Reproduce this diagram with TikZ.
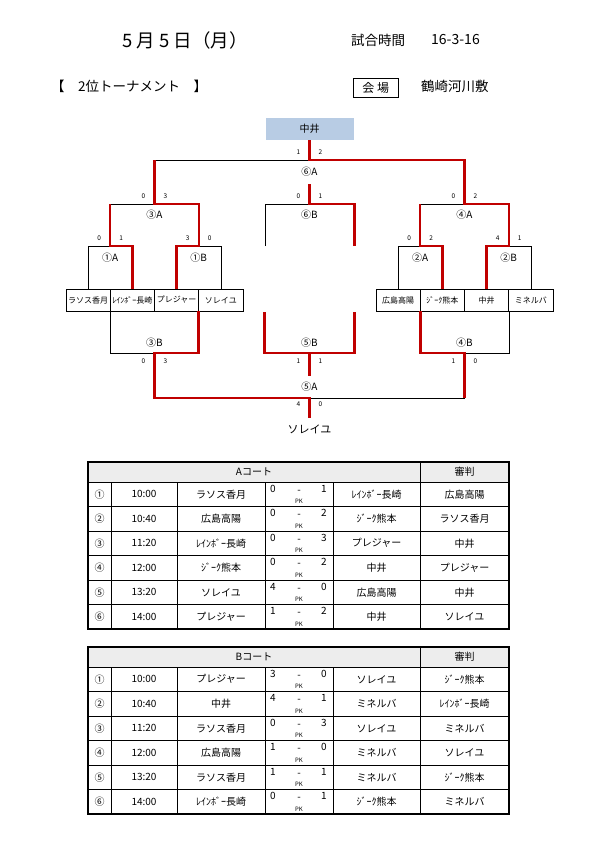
\documentclass[tikz,border=0pt]{standalone}
\usepackage{fontspec}
\setmainfont{Noto Sans CJK JP}
\definecolor{winred}{RGB}{192,0,0}
\definecolor{champblue}{RGB}{184,204,228}
\tikzset{
    win/.style={draw=winred, line width=2.3pt},
    lose/.style={draw=black, line width=0.8pt},
    team/.style={draw=black, line width=0.8pt, minimum width=44.25pt, minimum height=22pt, inner sep=0pt, font=\fontsize{8}{9}\selectfont},
    champ/.style={fill=champblue, minimum width=88pt, minimum height=22pt, inner sep=0pt, font=\fontsize{10}{11}\selectfont},
    game/.style={inner sep=0pt, font=\fontsize{10}{11}\selectfont},
    pts/.style={inner sep=0pt, font=\fontsize{6.5}{7}\selectfont},
    cell/.style={inner sep=0pt, font=\fontsize{10}{11}\selectfont},
    pk/.style={inner sep=0pt, font=\fontsize{6}{6}\selectfont},
    rule/.style={draw=black, line width=0.6pt},
    border/.style={draw=black, line width=1.2pt}
}
% frame of one court table (A coordinates)
\newcommand{\courtbox}[2]{%
    \fill[black!7] (88,462) rectangle (509,482);
    \draw[rule] (88,482) -- (509,482) (88,506.5) -- (509,506.5) (88,531) -- (509,531)
        (88,555.5) -- (509,555.5) (88,580) -- (509,580) (88,604.5) -- (509,604.5);
    \draw[rule] (420,462) -- (420,629) (111,482) -- (111,629) (177,482) -- (177,629)
        (265,482) -- (265,629) (333,482) -- (333,629);
    \draw[border] (88,462) rectangle (509,629);
    \node[cell] (#1title) at (254,472) {#2};
    \node[cell] (#1ref) at (464.5,472) {審判};
}
% one match row: name, y, no, time, home, score, score, away, referee
\newcommand{\gamerow}[9]{%
    \node[cell] (#1n) at (99.5,#2) {#3};
    \node[cell] (#1t) at (144,#2) {#4};
    \node[cell] (#1h) at (221,#2) {#5};
    \node[cell] (#1hs) at (273,#2-5.5) {#6};
    \node[cell] (#1d) at (299,#2-2.5) {-};
    \node[cell] (#1as) at (324,#2-5.5) {#7};
    \node[pk] (#1pk) at (299,#2+7.5) {PK};
    \node[cell] (#1a) at (376.5,#2) {#8};
    \node[cell] (#1r) at (464.5,#2) {#9};
}

\begin{document}
\begin{tikzpicture}[x=1pt, y=-1pt]
    \fill[white] (0,0) rectangle (595,841);
    \useasboundingbox (0,0) rectangle (595,841);

    % header
    \node[inner sep=0pt, font=\fontsize{18.5}{19}\selectfont] (date) at (185,40) {5 月 5 日（月）};
    \node[anchor=west, inner sep=0pt, font=\fontsize{13.5}{14}\selectfont] (time) at (351,40) {試合時間};
    \node[anchor=west, inner sep=0pt, font=\fontsize{14}{14}\selectfont] (len) at (431,40) {16-3-16};
    \node[anchor=west, inner sep=0pt, font=\fontsize{13.5}{14}\selectfont] (kind) at (51,86) {【　2位トーナメント　】};
    \node[draw, line width=0.8pt, minimum width=45pt, minimum height=19pt, inner sep=0pt, font=\fontsize{12}{12}\selectfont] (venue) at (375.8,87.8) {会 場};
    \node[anchor=west, inner sep=0pt, font=\fontsize{13.5}{14}\selectfont] (place) at (421,86) {鶴崎河川敷};

    % teams
    \node[champ] (top) at (309.5,129) {中井};
    \node[team] (t1) at (88.1,300) {ラソス香月};
    \node[team] (t2) at (132.4,300) {ﾚｲﾝﾎﾞｰ長崎};
    \node[team] (t3) at (176.6,300) {プレジャー};
    \node[team] (t4) at (220.9,300) {ソレイユ};
    \node[team] (t5) at (398.1,300) {広島高陽};
    \node[team] (t6) at (442.4,300) {ｼﾞｰｸ熊本};
    \node[team] (t7) at (486.6,300) {中井};
    \node[team] (t8) at (530.9,300) {ミネルバ};
    \node[game, font=\fontsize{11}{12}\selectfont] (third) at (309.5,429) {ソレイユ};

    % joints
    \coordinate (a1) at (110.25,246);
    \coordinate (b1) at (198.75,246);
    \coordinate (a2) at (420.25,246);
    \coordinate (b2) at (508.75,246);
    \coordinate (a3) at (154.5,204);
    \coordinate (a4) at (464.5,204);
    \coordinate (a6) at (309.5,160);
    \coordinate (b6) at (309.5,204);
    \coordinate (c6l) at (265,246);
    \coordinate (c6r) at (354.5,246);
    \coordinate (b3) at (154.5,353);
    \coordinate (b4) at (464.5,353);
    \coordinate (b5) at (309.5,353);
    \coordinate (c5l) at (264.5,312);
    \coordinate (c5r) at (354.5,312);
    \coordinate (a5) at (309.5,398);

    % lost
    \draw[lose] (t1.north) |- (a1);
    \draw[lose] (t4.north) |- (b1);
    \draw[lose] (t5.north) |- (a2);
    \draw[lose] (t8.north) |- (b2);
    \draw[lose] (a1 |- a3) -- (a3);
    \draw[lose] (a2 |- a4) -- (a4);
    \draw[lose] (a3 |- a6) -- (a6);
    \draw[lose] (c6l) |- (b6);
    \draw[lose] (t1.south east) |- (b3);
    \draw[lose] (t7.south east) |- (b4);
    \draw[lose] (b4 |- a5) -- (a5);

    % won
    \draw[win] (t2.north) |- (a1) -- (a1 |- a3);
    \draw[win] (t3.north) |- (b1) -- (b1 |- a3) -| (a3 |- a6);
    \draw[win] (t6.north) |- (a2) -- (a2 |- a4);
    \draw[win] (t7.north) |- (b2) -- (b2 |- a4) -| (a4 |- a6) -- (a6) -- (top.south);
    \draw[win] (c6r) |- (b6) -- ++(0,-20);
    \draw[win] (t4.south west) |- (b3) -- (b3 |- a5) -- (a5) -- ++(0,20);
    \draw[win] (t5.south east) |- (b4) -- (b4 |- a5);
    \draw[win] (c5l) |- (b5) -| (c5r);
    \draw[win] (b5) -- ++(0,23);

    % games
    \node[game] (g1A) at (110.25,258) {①A};
    \node[game] (g1B) at (198.75,258) {①B};
    \node[game] (g2A) at (420.25,258) {②A};
    \node[game] (g2B) at (508.75,258) {②B};
    \node[game] (g3A) at (154.5,215) {③A};
    \node[game] (g4A) at (464.5,215) {④A};
    \node[game] (g6B) at (309.5,215) {⑥B};
    \node[game] (g6A) at (309.5,172) {⑥A};
    \node[game] (g3B) at (154.5,343) {③B};
    \node[game] (g5B) at (309.5,343) {⑤B};
    \node[game] (g4B) at (464.5,343) {④B};
    \node[game] (g5A) at (309.5,387) {⑤A};

    % scores
    \node[pts] (p6Al) at (298.5,152.5) {1};
    \node[pts] (p6Ar) at (320.5,152.5) {2};
    \node[pts] (p6Bl) at (298.5,196.5) {0};
    \node[pts] (p6Br) at (320.5,196.5) {1};
    \node[pts] (p3Al) at (143.5,196.5) {0};
    \node[pts] (p3Ar) at (165.5,196.5) {3};
    \node[pts] (p4Al) at (453.5,196.5) {0};
    \node[pts] (p4Ar) at (475.5,196.5) {2};
    \node[pts] (p1Al) at (99.25,238.5) {0};
    \node[pts] (p1Ar) at (121.25,238.5) {1};
    \node[pts] (p1Bl) at (187.75,238.5) {3};
    \node[pts] (p1Br) at (209.75,238.5) {0};
    \node[pts] (p2Al) at (409.25,238.5) {0};
    \node[pts] (p2Ar) at (431.25,238.5) {2};
    \node[pts] (p2Bl) at (497.75,238.5) {4};
    \node[pts] (p2Br) at (519.75,238.5) {1};
    \node[pts] (p3Bl) at (143.5,361.5) {0};
    \node[pts] (p3Br) at (165.5,361.5) {3};
    \node[pts] (p5Bl) at (298.5,361.5) {1};
    \node[pts] (p5Br) at (320.5,361.5) {1};
    \node[pts] (p4Bl) at (453.5,361.5) {1};
    \node[pts] (p4Br) at (475.5,361.5) {0};
    \node[pts] (p5Al) at (298.5,404.5) {4};
    \node[pts] (p5Ar) at (320.5,404.5) {0};

    % A court
    \courtbox{A}{Aコート}
    \gamerow{A1}{494.25}{①}{10:00}{ラソス香月}{0}{1}{ﾚｲﾝﾎﾞｰ長崎}{広島高陽}
    \gamerow{A2}{518.75}{②}{10:40}{広島高陽}{0}{2}{ｼﾞｰｸ熊本}{ラソス香月}
    \gamerow{A3}{543.25}{③}{11:20}{ﾚｲﾝﾎﾞｰ長崎}{0}{3}{プレジャー}{中井}
    \gamerow{A4}{567.75}{④}{12:00}{ｼﾞｰｸ熊本}{0}{2}{中井}{プレジャー}
    \gamerow{A5}{592.25}{⑤}{13:20}{ソレイユ}{4}{0}{広島高陽}{中井}
    \gamerow{A6}{616.75}{⑥}{14:00}{プレジャー}{1}{2}{中井}{ソレイユ}

    % B court
    \begin{scope}[shift={(0,185)}]
        \courtbox{B}{Bコート}
        \gamerow{B1}{494.25}{①}{10:00}{プレジャー}{3}{0}{ソレイユ}{ｼﾞｰｸ熊本}
        \gamerow{B2}{518.75}{②}{10:40}{中井}{4}{1}{ミネルバ}{ﾚｲﾝﾎﾞｰ長崎}
        \gamerow{B3}{543.25}{③}{11:20}{ラソス香月}{0}{3}{ソレイユ}{ミネルバ}
        \gamerow{B4}{567.75}{④}{12:00}{広島高陽}{1}{0}{ミネルバ}{ソレイユ}
        \gamerow{B5}{592.25}{⑤}{13:20}{ラソス香月}{1}{1}{ミネルバ}{ｼﾞｰｸ熊本}
        \gamerow{B6}{616.75}{⑥}{14:00}{ﾚｲﾝﾎﾞｰ長崎}{0}{1}{ｼﾞｰｸ熊本}{ミネルバ}
    \end{scope}
\end{tikzpicture}
\end{document}
